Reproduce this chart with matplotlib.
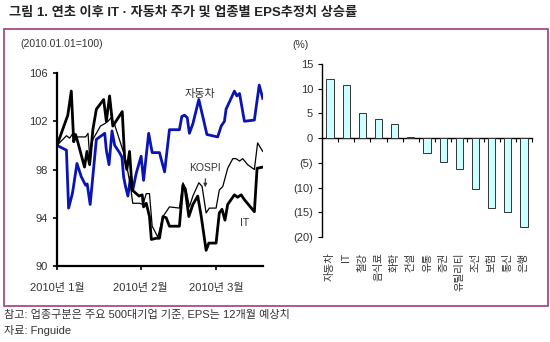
import matplotlib
matplotlib.use("Agg")
import matplotlib.pyplot as plt
import matplotlib.patches as patches
import matplotlib.transforms as mtransforms

plt.rcParams["font.family"] = ["Liberation Sans", "Noto Sans CJK KR", "DejaVu Sans"]
plt.rcParams["axes.unicode_minus"] = False

# ---------------------------------------------------------------------------
# Data (days since 2010-01-01, index 2010.01.01 = 100)
# ---------------------------------------------------------------------------
auto_days = [0, 3.5, 4.3, 5.7, 6.2, 7.4, 9, 10.6, 11.2, 12.3, 14.6, 17.7, 18.3, 19.3,
             20.4, 21.4, 23.2, 24.1, 24.7, 25.4, 26.3, 27.3, 28.1, 29.4, 31.2, 32.1,
             34, 35.3, 38, 39.9, 41.7, 45.4, 46.3, 47.3, 48.3, 49.1, 50.4, 52.6, 55.6,
             59.6, 60.9, 62.1, 62.7, 65.8, 66.7, 67.7, 69.5, 73.2, 75, 76.3]
auto_vals = [100, 99.6, 94.8, 96.0, 96.7, 98.5, 97.4, 96.7, 96.8, 95.1, 100.5, 101,
             99.6, 98.4, 101.2, 100, 99.4, 99, 97.4, 96.6, 95.8, 97.4, 96.3, 97.7,
             99.1, 97.1, 101, 99.4, 99.4, 97.8, 101.3, 101.3, 102.4, 102.5, 102.3,
             101, 101.8, 103.8, 100.9, 100.7, 101.6, 102, 103, 104.5, 104.1, 104.3,
             102, 102.1, 105, 103.9]

it_days = [0, 4, 5.3, 6.2, 6.9, 7.8, 10.2, 11.1, 12.1, 13.3, 14.6, 17.3, 18.3, 19.5,
           20.7, 24.2, 25.1, 25.9, 26.9, 27.9, 30.4, 31.6, 32.1, 33.1, 34.3, 35,
           36.8, 38, 39.3, 40.5, 41.7, 45.4, 46.7, 47.5, 48.9, 50.4, 52.2, 53.5,
           55.3, 56.3, 59, 60.2, 61.2, 62.3, 63.3, 65.8, 67, 68.3, 69.5, 73.2, 74.2,
           76.3]
it_vals = [100, 102.5, 104.5, 100.3, 100.9, 100.2, 98.2, 99.5, 98.4, 101.3, 103,
           103.8, 102, 104.1, 101.6, 102.8, 98.9, 98, 99.5, 96.3, 95.8, 95.9, 94.9,
           95.2, 94.1, 92.2, 92.3, 92.3, 94.1, 94, 93.3, 93.3, 96.7, 96.4, 94.1,
           95.1, 95.8, 94.1, 91.3, 91.9, 91.9, 94.4, 94.7, 93.8, 95.1, 95.9, 95.7,
           95.9, 95.5, 94.5, 98.1, 98.2]

kospi_days = [0, 2.2, 3.5, 4.7, 5.9, 7.2, 8.4, 10.6, 11.5, 12.1, 13.3, 14.6, 16.1,
              17.7, 18.9, 20.1, 21.4, 24.7, 25.7, 27.2, 28.1, 30.6, 31.9, 33.1, 34.3,
              35.3, 37.4, 39.3, 40.5, 41.7, 45.4, 46.7, 47.9, 49.1, 50.4, 52.6, 53.8,
              55.3, 56.5, 59, 60.2, 61.5, 63.3, 65.2, 66.4, 67.7, 68.9, 70.7, 73.2,
              74.4, 76.3]
kospi_vals = [100, 100.5, 100.8, 100.6, 101, 100.7, 100.7, 100.7, 101, 99.1, 100.5,
              101, 101.6, 101.8, 102, 102.3, 101.7, 99.4, 98.5, 96.7, 95.2, 95.2,
              95.1, 96, 96, 93.3, 92.4, 94.1, 94.5, 94.9, 94.8, 96.9, 96.3, 94.9,
              95.8, 96.9, 96.6, 94.4, 94.8, 94.8, 96.3, 96.6, 98.1, 98.9, 98.9, 98.7,
              98.9, 98.4, 98, 100.2, 99.5]

month_days = [0, 31, 59]
month_labels = ["2010년 1월", "2010년 2월", "2010년 3월"]
line_yticks = [90, 94, 98, 102, 106]

sectors = ["자동차", "IT", "철강", "음식료", "화학", "건설", "유통", "증권",
           "유틸리티", "조선", "보험", "통신", "은행"]
eps_growth = [12.0, 10.7, 5.0, 3.8, 2.9, 0.3, -3.0, -4.8, -6.3, -10.2, -14.2,
              -15.0, -18.0]
bar_yticks = [15, 10, 5, 0, -5, -10, -15, -20]

# ---------------------------------------------------------------------------
W, H = 550, 342
fig = plt.figure(figsize=(W / 100, H / 100), dpi=100)


def fx(px):
    return px / W


def fy(py):
    return 1 - py / H


# frame
fig.patches.append(patches.Rectangle((fx(4), fy(306)), fx(544), (306 - 29) / H,
                                     transform=fig.transFigure, fill=False,
                                     edgecolor="#A23C7C", linewidth=1.2))

fig.text(fx(9), fy(13), "그림 1. 연초 이후 IT · 자동차 주가 및 업종별 EPS추정치 상승률",
         fontsize=9.5, fontweight="bold", va="center", ha="left", color="#222222")
fig.text(fx(4), fy(314), "참고: 업종구분은 주요 500대기업 기준, EPS는 12개월 예상치",
         fontsize=8, va="center", ha="left", color="#333333")
fig.text(fx(4), fy(330), "자료: Fnguide", fontsize=8, va="center", ha="left",
         color="#333333")
fig.text(fx(20), fy(44), "(2010.01.01=100)", fontsize=7.5, color="#333333",
         ha="left", va="center")
fig.text(fx(292), fy(45), "(%)", fontsize=7.5, color="#333333", ha="left",
         va="center")

# ── Left panel: price index lines ──
ax = fig.add_axes([fx(57), fy(266), fx(263 - 57), (266 - 73) / H])
ax.plot(auto_days, auto_vals, color="#0A14B4", linewidth=2.0)
ax.plot(kospi_days, kospi_vals, color="black", linewidth=0.9)
ax.plot(it_days, it_vals, color="black", linewidth=2.0)
ax.set_xlim(0, 76.4)
ax.set_ylim(90, 106)
ax.set_yticks(line_yticks)
ax.set_yticklabels([str(v) for v in line_yticks])
ax.set_xticks(month_days)
ax.set_xticklabels(month_labels)
for s in ["top", "right"]:
    ax.spines[s].set_visible(False)
for s in ["left", "bottom"]:
    ax.spines[s].set_linewidth(1.6)
ax.tick_params(axis="both", labelsize=8, colors="black", length=3, width=1.2,
               labelcolor="#333333")
ax.tick_params(axis="x", pad=9)
ax.text(53, 104.3, "자동차", fontsize=8, color="#333333", ha="center", va="center")
ax.annotate("KOSPI", xy=(55, 96.3), xytext=(55, 97.7), fontsize=7.5,
            color="#333333", ha="center", va="bottom",
            arrowprops=dict(arrowstyle="-|>", color="#333333", lw=0.8,
                            mutation_scale=5))
ax.text(69.5, 93.6, "IT", fontsize=7.5, color="#333333", ha="center", va="center")

# ── Right panel: EPS estimate growth by sector ──
ax2 = fig.add_axes([fx(322), fy(237), fx(532 - 322), (237 - 64) / H])
xs = list(range(len(sectors)))
ax2.bar(xs, eps_growth, width=0.45, color="#CCFFFF", edgecolor="#333333",
        linewidth=0.7, zorder=3)
ax2.set_xlim(-0.5, len(sectors) - 0.5)
ax2.set_ylim(-20, 15)
ax2.set_yticks(bar_yticks)
ax2.set_yticklabels([str(v) if v >= 0 else f"({-v})" for v in bar_yticks])
ax2.spines["bottom"].set_position(("data", 0))
for s in ["top", "right"]:
    ax2.spines[s].set_visible(False)
ax2.spines["left"].set_linewidth(1.0)
ax2.spines["bottom"].set_linewidth(1.0)
ax2.set_xticks([x + 0.5 for x in xs])
ax2.set_xticklabels([])
ax2.tick_params(axis="x", direction="out", length=3, width=0.8)
ax2.tick_params(axis="y", labelsize=8, length=3, width=0.8, labelcolor="#333333")
trans = mtransforms.blended_transform_factory(ax2.transData, ax2.transAxes)
for x, name in zip(xs, sectors):
    ax2.text(x, -0.09, name, transform=trans, rotation=90, fontsize=7.5,
             ha="center", va="top", color="#333333")

fig.savefig("out.png", dpi=100)
